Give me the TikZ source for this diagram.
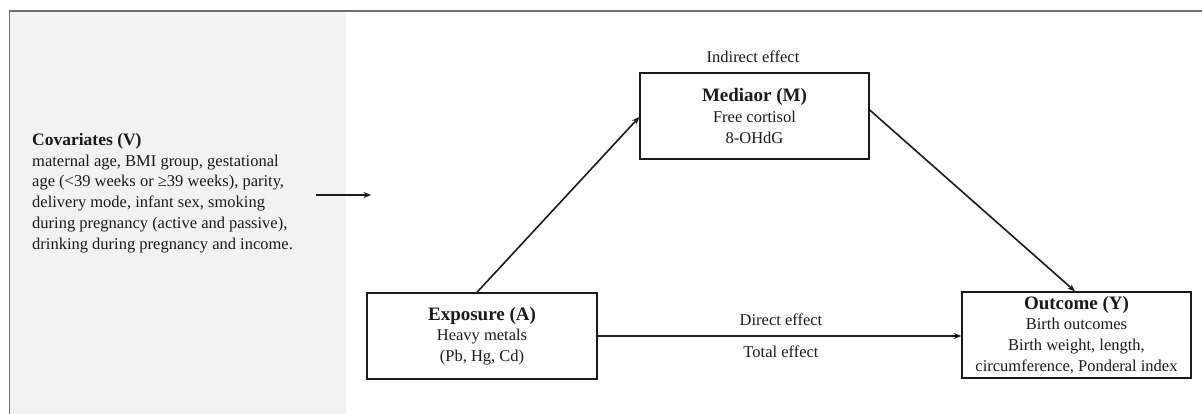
\documentclass[tikz,border=0pt]{standalone}
\usepackage{fontspec}
\setmainfont{Liberation Serif}
\usetikzlibrary{arrows.meta}
\definecolor{panelgray}{HTML}{F2F2F2}
\definecolor{framegray}{HTML}{6E6E6E}
\definecolor{ink}{HTML}{1A1A1A}
\newcommand{\hd}[1]{{\fontsize{19}{20.8}\selectfont\bfseries #1}}
\tikzset{
  txt/.style={font=\fontsize{16.5}{20.8}\selectfont, text=ink, inner sep=0pt},
  varbox/.style={draw=ink, line width=1.4pt, align=center, font=\fontsize{16.5}{20.8}\selectfont, text=ink, inner sep=0pt},
  conn/.style={draw=ink, line width=1.6pt, -{Stealth[length=7.5pt,width=6pt]}}
}
\begin{document}
\begin{tikzpicture}[x=1pt,y=-1pt]
\useasboundingbox (0,0) rectangle (1202,414);
% panel and frame
\fill[panelgray] (10,12) rectangle (346,414);
\draw[framegray, line width=1.5pt] (9.5,414) -- (9.5,11) -- (1202,11);
% covariates
\node[txt, anchor=north west, align=left] (cov) at (32,133)
  {{\fontsize{17.5}{20.8}\selectfont\bfseries Covariates (V)}\\
   maternal age, BMI group, gestational\\
   age (<39 weeks or ≥39 weeks), parity,\\
   delivery mode, infant sex, smoking\\
   during pregnancy (active and passive),\\
   drinking during pregnancy and income.};
\coordinate (covs) at (316,195);
\coordinate (cove) at (371,195);
\draw[conn] (covs) -- (cove);
% boxes
\node[varbox, minimum width=230pt, minimum height=86pt] (A) at (482,336)
  {\hd{Exposure (A)}\\Heavy metals\\(Pb, Hg, Cd)};
\node[varbox, minimum width=229pt, minimum height=86pt] (M) at (754.5,116)
  {\hd{Mediaor (M)}\\Free cortisol\\8-OHdG};
\node[varbox, minimum width=229pt, minimum height=86pt] (Y) at (1076.5,335)
  {\hd{Outcome (Y)}\\Birth outcomes\\Birth weight, length,\\circumference, Ponderal index};
% labels
\node[txt] (ind) at (753,57) {Indirect effect};
\node[txt] (dir) at (781,320) {Direct effect};
\node[txt] (tot) at (781,352) {Total effect};
% connectors
\draw[conn] (A.north -| 477,0) -- (M.west |- 0,117);
\draw[conn] (M.east |- 0,110) -- (Y.north -| 1075,0);
\draw[conn] (A.east) -- (Y.west |- A.east);
\end{tikzpicture}
\end{document}
